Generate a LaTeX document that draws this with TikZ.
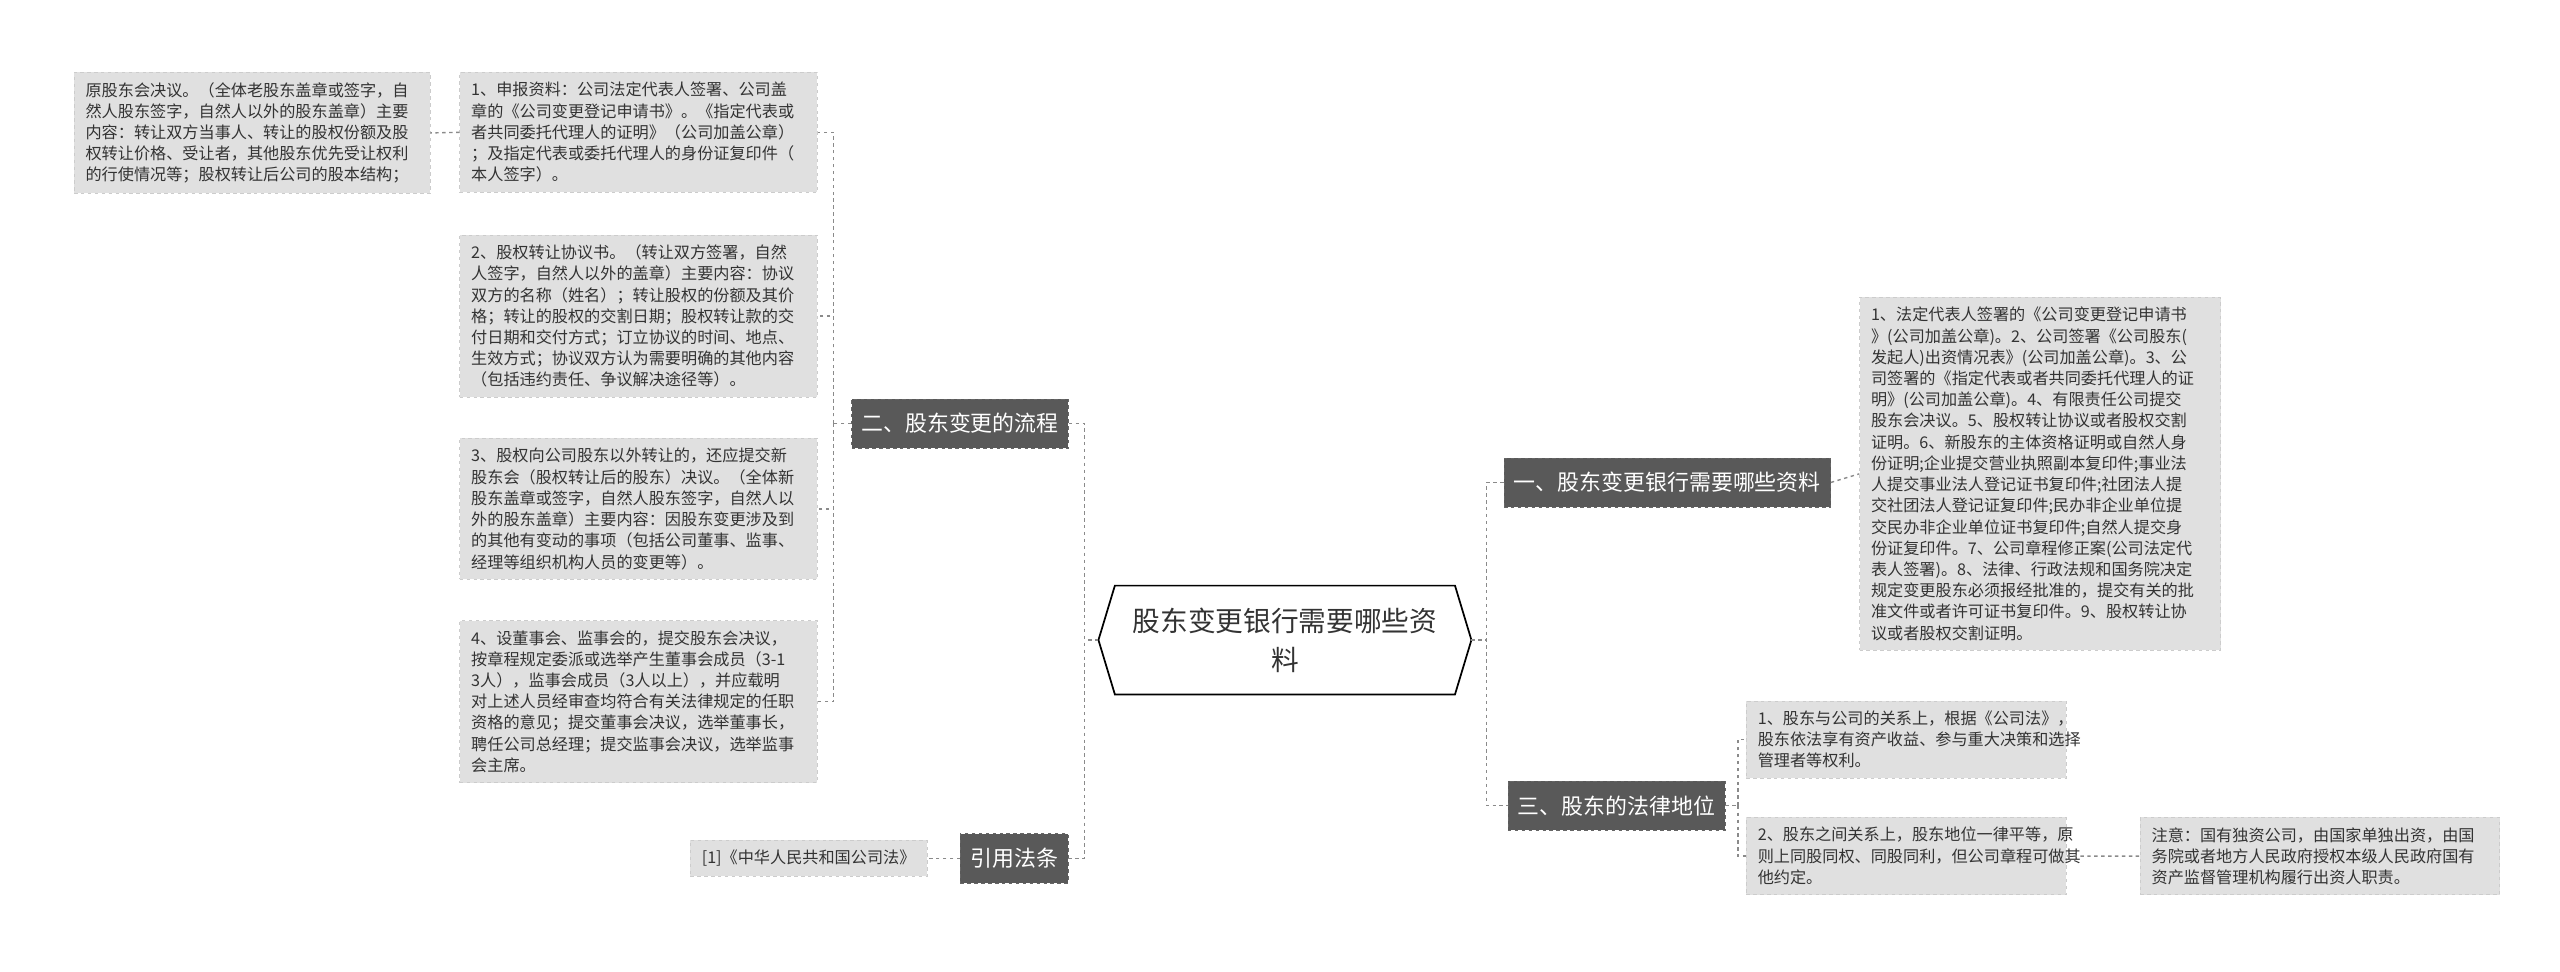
\documentclass[tikz,border=0pt]{standalone}
\usepackage{fontspec}
\setmainfont{Noto Sans CJK SC}
\usetikzlibrary{positioning}
\definecolor{branchgray}{HTML}{595959}
\definecolor{leafgray}{HTML}{E0E0E0}
\definecolor{linegray}{HTML}{8A8A8A}

\tikzset{
  leaf/.style={fill=leafgray, draw=white!80!black, dashed, anchor=north west, align=left,
    inner xsep=0.35cm, inner ysep=0.3cm, font=\fontsize{14}{18.4}\selectfont, text=black!80},
  branch/.style={fill=branchgray, draw=black!60, dashed, text=white, minimum height=1.5cm,
    inner xsep=0.3cm, font=\fontsize{19}{22}\selectfont},
  link/.style={draw=linegray, dashed, line width=1.2pt}
}

\begin{document}
\begin{tikzpicture}[x=0.05cm, y=-0.05cm]
        \useasboundingbox (0,0) rectangle (1560,592);

        % root
        \node[minimum width=11.35cm, minimum height=3.3cm, align=center,
          font=\fontsize{24}{34}\selectfont, text=black!80] (root) at (783,390)
          {股东变更银行需要哪些资\\料};
        \draw[line width=1.5pt, fill=none] (root.west) -- ([xshift=0.5cm]root.north west)
          -- ([xshift=-0.5cm]root.north east) -- (root.east)
          -- ([xshift=-0.5cm]root.south east) -- ([xshift=0.5cm]root.south west) -- cycle;

        % branches
        \node[branch] (flow) at (585,258) {二、股东变更的流程};
        \node[branch] (law) at (618,523) {引用法条};
        \node[branch] (docs) at (1016,294) {一、股东变更银行需要哪些资料};
        \node[branch] (status) at (985,491) {三、股东的法律地位};

        % left leaves
        \node[leaf, text width=10.15cm] (old) at (45,44) {原股东会决议。（全体老股东盖章或签字，自\\然人股东签字，自然人以外的股东盖章）主要\\内容：转让双方当事人、转让的股权份额及股\\权转让价格、受让者，其他股东优先受让权利\\的行使情况等；股权转让后公司的股本结构；};
        \node[leaf, text width=10.2cm] (p1) at (280,44) {1、申报资料：公司法定代表人签署、公司盖\\章的《公司变更登记申请书》。《指定代表或\\者共同委托代理人的证明》（公司加盖公章）\\；及指定代表或委托代理人的身份证复印件（\\本人签字）。};
        \node[leaf, text width=10.2cm] (p2) at (280,143) {2、股权转让协议书。（转让双方签署，自然\\人签字，自然人以外的盖章）主要内容：协议\\双方的名称（姓名）；转让股权的份额及其价\\格；转让的股权的交割日期；股权转让款的交\\付日期和交付方式；订立协议的时间、地点、\\生效方式；协议双方认为需要明确的其他内容\\（包括违约责任、争议解决途径等）。};
        \node[leaf, text width=10.2cm] (p3) at (280,267) {3、股权向公司股东以外转让的，还应提交新\\股东会（股权转让后的股东）决议。（全体新\\股东盖章或签字，自然人股东签字，自然人以\\外的股东盖章）主要内容：因股东变更涉及到\\的其他有变动的事项（包括公司董事、监事、\\经理等组织机构人员的变更等）。};
        \node[leaf, text width=10.2cm] (p4) at (280,378) {4、设董事会、监事会的，提交股东会决议，\\按章程规定委派或选举产生董事会成员（3-1\\3人），监事会成员（3人以上），并应载明\\对上述人员经审查均符合有关法律规定的任职\\资格的意见；提交董事会决议，选举董事长，\\聘任公司总经理；提交监事会决议，选举监事\\会主席。};
        \node[leaf, anchor=east] (ref) at (565,523) {[1]《中华人民共和国公司法》};

        % right leaves
        \node[leaf, text width=10.3cm] (r1) at (1133,181) {1、法定代表人签署的《公司变更登记申请书\\》(公司加盖公章)。2、公司签署《公司股东(\\发起人)出资情况表》(公司加盖公章)。3、公\\司签署的《指定代表或者共同委托代理人的证\\明》(公司加盖公章)。4、有限责任公司提交\\股东会决议。5、股权转让协议或者股权交割\\证明。6、新股东的主体资格证明或自然人身\\份证明;企业提交营业执照副本复印件;事业法\\人提交事业法人登记证书复印件;社团法人提\\交社团法人登记证复印件;民办非企业单位提\\交民办非企业单位证书复印件;自然人提交身\\份证复印件。7、公司章程修正案(公司法定代\\表人签署)。8、法律、行政法规和国务院决定\\规定变更股东必须报经批准的，提交有关的批\\准文件或者许可证书复印件。9、股权转让协\\议或者股权交割证明。};
        \node[leaf, text width=9.05cm] (s1) at (1064,427) {1、股东与公司的关系上，根据《公司法》，\\股东依法享有资产收益、参与重大决策和选择\\管理者等权利。};
        \node[leaf, text width=9.05cm] (s2) at (1064,498) {2、股东之间关系上，股东地位一律平等，原\\则上同股同权、同股同利，但公司章程可做其\\他约定。};
        \node[leaf, text width=10.25cm] (note) at (1304,498) {注意：国有独资公司，由国家单独出资，由国\\务院或者地方人民政府授权本级人民政府国有\\资产监督管理机构履行出资人职责。};

        % connectors
        \path[link] (root.west) -- (661,390) coordinate (lt);
        \path[link] (flow.east) -| (lt) |- (law.east);
        \path[link] (flow.west) -- (508,258) coordinate (ft);
        \foreach \p in {p1,p2,p3,p4} {
          \path[link] (ft) |- (\p.east);
        }
        \path[link] (p1.west) -- (old.east);
        \path[link] (law.west) -- (ref.east);

        \path[link] (root.east) -- (906,390) coordinate (rt);
        \path[link] (docs.west) -| (rt) |- (status.west);
        \path[link] (docs.east) -- (r1.west);
        \path[link] (status.east) -- (1059,491) coordinate (st);
        \path[link] (st) |- (s1.west);
        \path[link] (st) |- (s2.west);
        \path[link] (s2.east) -- (note.west);
    \end{tikzpicture}
\end{document}
